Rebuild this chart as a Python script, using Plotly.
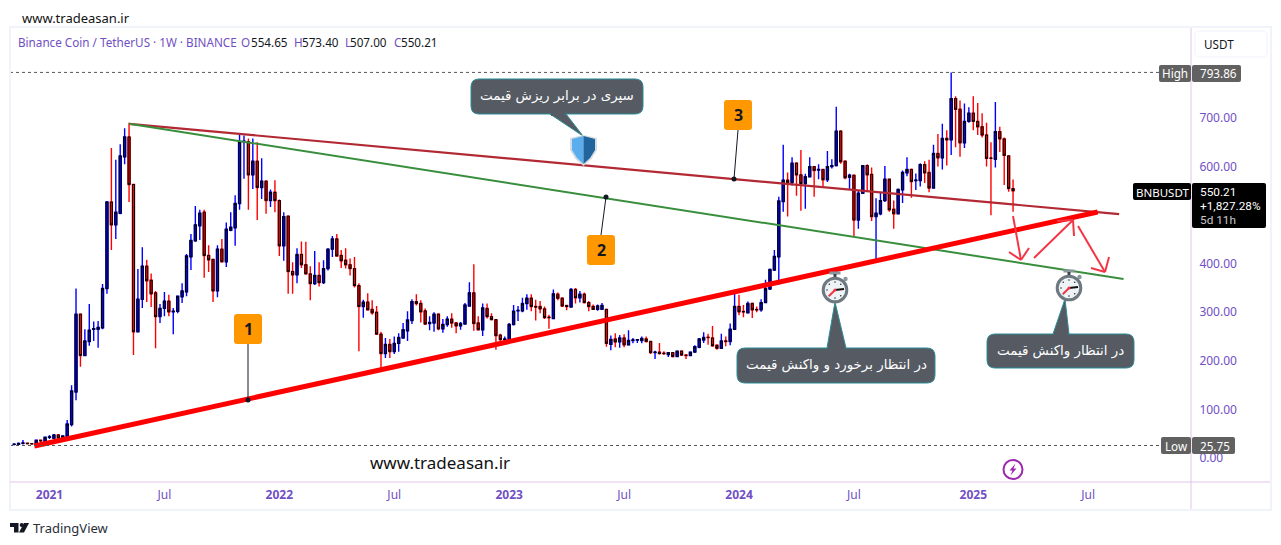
import pandas as pd
import plotly.graph_objects as go

# ---------- data ----------
first_week = "2020-11-09"
opens = [28,28.2,30.2,30.5,29.5,28.8,36.4,32.3,42.6,40.5,
47.4,41.5,44,69,136,296,211,240,265,265,
268,349,527,480,504,620,661,563,260,327,
395,366,340,291,308,323,301,302,332,342,
414,447,478,506,417,409,344,430,404,469,
474,524,651,651,583,611,557,570,530,547,
530,437,498,384,377,419,398,379,359,376,
361,390,430,451,417,407,398,390,355,312,
321,306,300,255,215,234,219,236,247,262,
283,322,318,303,277,278,296,266,275,286,
278,272,276,313,340,278,264,308,291,285,
253,244,
244,275,303,303,318,329,312,312,307,290,
287,337,329,314,311,347,330,337,320,312,
306,306,306,234,245,239,247,233,242,243,
242,245,240,217,218,216,213,217,209,220,
212,211,218,228,243,248.5,247,232,226,241,
240,265,
312,301.5,299,318,306,305,320,348,387,414,
528,572,567,607,583,565,579,600,593,594,
573,600,602,673,611,578,582,490,545,602,
584,497,503,530,574,512,503,552,587,594,
571,571,604,588,556,627,618,658,655,740,
718,649,693,
710,693,682,665,617.5,615,672,657,622,554.65]
highs = [29,31.8,37,31,30,37,36.5,43,47.4,49.4,
49.4,47,78,150,349,296,265,317,281,282,
358,529,638,614,646,679,690,563,389,434,
408,380,344,317,342,336,309,333,360,420,
461,519,511,511,438,409,438,451,485,506,
541,669,664,658,658,650,617,572,553,572,
532,506,498,403,432,446,445,395,426,403,
407,432,457,461,428,432,411,414,360,326,
339,325,313,260,247,245,250,257,278,302,
327,337,325,308,292,300,298,286,292,298,
280,280,319,362,399,292,318,318,298,285,
256,250,
278,315,313,330,337,337,326,323,312,295,
347,341,331,314,350,350,344,341,323,316,
316,319,306,252,257,253,255,263,247,245,
250,250,241,221,237,220,218,218,221,222,
213,219,232,247,259,256,272,234,256,250,
277,339,
336,315,322,320,312,327,367,390,428,538,
645,588,619,609,634,585,619,600,605,595,
632,615,723,675,613,585,583,551,603,605,
598,535,547,601,575,530,555,592,619,596,
586,607,611,614,645,667,688,675,793.86,745,
736,730,722,
745,731,710,690,650,733,682,660,622,573.40]
lows = [25.75,27.5,28,29,28,27.5,30,30,39,39,
39.8,41,43,65,119,188,210,231,241,227,
265,338,428,451,502,605,527,212,260,309,
321,311,226,278,292,292,255,298,319,333,
387,445,449,371,383,321,331,404,393,467,
437,511,575,511,554,490,533,503,517,506,
416,406,338,338,360,391,379,325,356,353,
358,386,414,416,391,390,376,351,220,289,
305,295,255,185,206,206,214,219,246,241,
276,314,279,274,263,260,263,258,270,268,
257,264,275,313,262,263,251,287,283,223,
240,244,
243,273,282,300,305,302,283,298,286,266,
287,325,311,304,311,318,320,318,302,305,
303,306,229,222,228,227,228,232,236,237,
236,238,214,204,213,212,208,207,208,210,
204,211,217,226,237,233,229,223,226,230,
232,265,
294,290,299,288,300,301,319,346,385,357,
507,497,561,540,509,513,578,538,574,560,
568,596,600,606,574,554,456,472,544,551,
488,403,500,527,507,472,503,525,580,536,
552,559,566,547,555,600,594,602,624,640,
620,638,690,
675,665,660,600,500,598,630,562,548,507.00]
closes = [28.5,30,30.9,29.5,29.3,36.4,35.5,42.6,43.2,47.4,
41,45.3,70,138,296,211,241,263,266,269,
349,527,480,506,622,661,563,260,327,395,
365,338,291,308,323,301,302,333,344,416,
448,480,504,417,408,344,430,404,471,475,
524,651,652,583,611,557,570,530,547,530,
437,497,384,377,419,398,379,359,376,361,
390,430,451,416,406,398,390,355,312,321,
305,299,255,215,234,219,236,248,264,284,
322,318,301,276,279,296,266,275,286,278,
272,277,315,340,277,264,309,291,285,252,
244,245,
275,302,304,318,329,312,311,307,289,289,
338,329,313,312,347,330,337,320,312,306,
313,314,236,244,239,247,233,242,243,243.5,
246,240,217,218,215,215,217,209,220,212,
211,218,229,245,248,248,231,226,241,240,
265,312,
301,301,318,305,305,320,349,388,415,529,
572,567,607,583,565,579,600,592,594,573,
600,602,673,610,577,582,490,545,602,583,
497,504,530,574,511,503,553,588,594,569,
572,604,587,556,627,618,658,655,740,718,
649,693,710,
693,682,665,617,617,672,657,623,555,550.21]

price_ticks = [0,100,200,300,400,500,600,700]
price_labels = ["0.00","100.00","200.00","300.00","400.00","500.00","600.00","700.00"]
time_ticks = ["2021-01-04","2021-07-05","2022-01-03","2022-07-04","2023-01-02","2023-07-03","2024-01-01","2024-07-01","2025-01-06","2025-07-07"]
time_labels = ["<b>2021</b>","Jul","<b>2022</b>","Jul","<b>2023</b>","Jul","<b>2024</b>","Jul","<b>2025</b>","Jul"]

high_level = 793.86
low_level = 25.75
trend_red_x = ["2020-12-11","2025-07-22"]
trend_red_y = [24.7,506.5]
trend_brown_x = ["2021-05-10","2025-08-25"]
trend_brown_y = [688,502]
trend_green_x = ["2021-05-10","2025-09-01"]
trend_green_y = [688,368.5]

weeks = pd.date_range(first_week, periods=len(opens), freq="7D")
body_top = [max(a,b) for a,b in zip(opens,closes)]
body_bot = [min(a,b) for a,b in zip(opens,closes)]

# ---------- layout geometry ----------
L,R,T,B = 10,1191,28,482
W,H = 1281,545
PX_WEEK = 4.42
X0 = pd.Timestamp("2021-01-04")
x_start = X0 + pd.Timedelta(weeks=(L-49.5)/PX_WEEK)
x_end = X0 + pd.Timedelta(weeks=(R-49.5)/PX_WEEK)
y_scale = 0.4857
y_lo = (458-B)/y_scale
y_hi = (458-T)/y_scale

def px(x): return (x-L)/(R-L)
def py(y): return (B-y)/(B-T)

PURPLE = "#7050c4"
FONT = "Noto Sans"
TAGFONT = "Roboto"
ARABIC = "DejaVu Sans"
shapes, notes = [], []

def path(points, close=False):
    s = "M "+" L ".join(f"{px(a):.5f} {py(b):.5f}" for a,b in points)
    return s+(" Z" if close else "")

def line(a,b,c,d,color,width=1,dash=None):
    shapes.append(dict(type="line",xref="paper",yref="paper",x0=px(a),y0=py(b),x1=px(c),y1=py(d),
                       line=dict(color=color,width=width,dash=dash or "solid"),layer="above"))

def rect(a,b,c,d,fill,border=None,bw=0):
    shapes.append(dict(type="rect",xref="paper",yref="paper",x0=px(a),y0=py(b),x1=px(c),y1=py(d),
                       fillcolor=fill,line=dict(color=border or fill,width=bw),layer="above"))

def circle(cx,cy,r,fill,border=None,bw=0):
    shapes.append(dict(type="circle",xref="paper",yref="paper",x0=px(cx-r),y0=py(cy-r),x1=px(cx+r),y1=py(cy+r),
                       fillcolor=fill,line=dict(color=border or fill,width=bw),layer="above"))

def rrect(a,b,c,d,r):
    P=lambda x,y:f"{px(x):.5f} {py(y):.5f}"
    return (f"M {P(a+r,b)} L {P(c-r,b)} Q {P(c,b)} {P(c,b+r)} L {P(c,d-r)} Q {P(c,d)} {P(c-r,d)} "
            f"L {P(a+r,d)} Q {P(a,d)} {P(a,d-r)} L {P(a,b+r)} Q {P(a,b)} {P(a+r,b)} Z")

def rshape(a,b,c,d,r,fill,border=None,bw=0):
    shapes.append(dict(type="path",xref="paper",yref="paper",path=rrect(a,b,c,d,r),fillcolor=fill,
                       line=dict(color=border or fill,width=bw),layer="above"))

def poly(points,fill,border=None,bw=0):
    shapes.append(dict(type="path",xref="paper",yref="paper",path=path(points,True),fillcolor=fill,
                       line=dict(color=border or fill,width=bw),layer="above"))

def text(x,y,s,size=12,color="#131722",anchor="left",font=FONT):
    notes.append(dict(xref="paper",yref="paper",x=px(x),y=py(y),text=s,showarrow=False,xanchor=anchor,
                      yanchor="middle",align=anchor if anchor!="center" else "center",
                      font=dict(family=font,size=size,color=color),borderpad=0,borderwidth=0))

# frame
GREY="#f0f3fa"
rect(9,26,1272,28,GREY); rect(9,26,11,510,GREY); rect(1270,26,1272,510,GREY); rect(9,509,1272,511,GREY)
PAX="#e1c6ea"
line(L,B,1270,B,PAX,1); line(R,28,R,509,PAX,1)

# USDT button
rshape(1195,31,1267,57,5,"#ffffff",GREY,1)
text(1204,44,"USDT",11.7,"#131722")

# top texts
text(22,18,"www.tradeasan.ir",13,"#111111")
text(18,42,"Binance Coin / TetherUS · 1W · BINANCE",11.7,PURPLE)
for xl,xv,l,v in [(241,250.5,"O","554.65"),(293.5,302,"H","573.40"),(345,350,"L","507.00"),(393.5,401,"C","550.21")]:
    text(xl,42,l,11.7,PURPLE); text(xv,42,v,11.7,"#131722")

# tags
rshape(1159,65,1191,82,2,"#616161"); rshape(1192,65,1241,82,2,"#616161")
text(1175,73.5,"High",11.7,"#ffffff","center"); text(1200,73.5,"793.86",11.7,"#ffffff")
rshape(1161,437,1191,454,2,"#616161"); rshape(1192,437,1235,454,2,"#616161")
text(1176,445.5,"Low",11.7,"#ffffff","center"); text(1200,445.5,"25.75",11.7,"#ffffff")
rshape(1133,183,1191,200,2,"#000000"); rshape(1192,183,1266,228,2,"#000000")
text(1162,192,"BNBUSDT",11.5,"#ffffff","center")
text(1200,192,"550.21",11.8,"#ffffff",font=TAGFONT)
text(1200,206,"+1,827.28%",11.8,"#ffffff",font=TAGFONT)
text(1200,220,"5d 11h",11.8,"#c8c8c8",font=TAGFONT)

# orange number labels with leaders
def number(a,b,label,fx,fy,tx,ty):
    line(fx,fy,tx,ty,"#131722",1)
    circle(tx,ty,2.5,"#131722")
    rshape(a,b,a+28,b+30,3,"#ff9800")
    text(a+14,b+15,label,16,"#131722","center")
number(234,314,"<b>1</b>",248,344,248,400)
number(587,235,"<b>2</b>",601,235,606,197)
number(724,100,"<b>3</b>",738,130,734,179)

# callouts
FILL,EDGE="#555a63","#2a8c96"
def callout(a,b,c,d,base1,base2,base_y,tipx,tipy,label,size):
    poly([(base1,base_y),(tipx,tipy),(base2,base_y)],FILL,EDGE,1)
    rshape(a,b,c,d,8,FILL,EDGE,1)
    rect(base1+1,base_y-2,base2-1,base_y+2,FILL)
    text((a+c)/2,(b+d)/2-0.5,label,size,"#ffffff","center",ARABIC)
callout(471,79,643,114,550,566,114,583,136,"سپری در برابر ریزش قیمت",13.4)
callout(737,348,935,383,827,846,348,835,302,"در انتظار برخورد و واکنش قیمت",13.4)
callout(987,334,1134,368,1053,1069,334,1065,299,"در انتظار واکنش قیمت",13.4)

# shield
def shield():
    sx,top,bot=583.5,136,165
    poly([(sx,top-1),(sx-13.5,top+2),(sx-13.5,top+14),(sx-8,top+23),(sx,bot+1),(sx+8,top+23),(sx+13.5,top+14),(sx+13.5,top+2)],"#d5dbe2")
    poly([(sx,top),(sx-11.5,top+3),(sx-11.5,top+14),(sx-6.5,top+22),(sx,bot-1)],"#5aaeee")
    poly([(sx,top),(sx+11.5,top+3),(sx+11.5,top+14),(sx+6.5,top+22),(sx,bot-1)],"#22659c")
shield()

# stopwatches
def stopwatch(cx,cy):
    rect(cx-5.5,cy-18.5,cx+5.5,cy-15.5,"#8a969e")
    rect(cx-1.5,cy-16,cx+1.5,cy-12,"#3c4348")
    circle(cx+10.5,cy-11,2.2,"#8a969e")
    circle(cx,cy,11.8,"#eef3f6","#6d7880",3)
    for dx,dy in [(0,-8),(0,8),(-8,0),(-5.7,-5.7),(5.7,-5.7),(-5.7,5.7),(5.7,5.7)]:
        circle(cx+dx,cy+dy,0.8,"#2b2f33")
    line(cx,cy,cx+9,cy-1,"#111111",2)
    line(cx,cy,cx-6,cy+6,"#f23645",2)
    circle(cx,cy,1.5,"#f23645")
stopwatch(835,290)
stopwatch(1069,288)

# hand-drawn arrows
ARROW="#f23645"
for seg in [(1013,216,1021,260),(1009,252,1021,260),(1029,248,1021,260),
            (1034,258,1073,220),(1057,221,1073,220),(1074,236,1073,220),
            (1078,226,1105,272),(1091,268,1105,272),(1109,257,1105,272)]:
    line(*seg,ARROW,2)

# lightning icon
circle(1013,469.5,9.5,"rgba(0,0,0,0)","#9c27b0",2)
poly([(1015.5,463.5),(1009.5,470.5),(1012.5,470.5),(1010.5,475.5),(1016.5,468.5),(1013.5,468.5)],"#9c27b0")

# watermark + logo
text(370,462,"www.tradeasan.ir",17,"#111111")
text(33,527.5,"TradingView",13,"#2a2e39")
poly([(10,523),(18.5,523),(18.5,532.5),(14,532.5),(14,527),(10,527)],"#131722")
circle(21.7,525,2,"#131722")
poly([(24,523),(29,523),(24,532.5),(19,532.5)],"#131722")

# ---------- traces ----------
fig = go.Figure()
fig.add_trace(go.Candlestick(x=weeks,open=opens,high=highs,low=lows,close=closes,
    increasing=dict(line=dict(color="#0000ff",width=1.4),fillcolor="#0000ff"),
    decreasing=dict(line=dict(color="#ff0000",width=1.4),fillcolor="#ff0000"),hoverinfo="skip",showlegend=False))
fig.add_trace(go.Candlestick(x=weeks,open=opens,high=body_top,low=body_bot,close=closes,
    increasing=dict(line=dict(color="#000000",width=1),fillcolor="#0000ff"),
    decreasing=dict(line=dict(color="#000000",width=1),fillcolor="#ff0000"),hoverinfo="skip",showlegend=False))
for xs,ys,c,w in [(trend_brown_x,trend_brown_y,"#b22833",2.2),(trend_green_x,trend_green_y,"#388e3c",2),(trend_red_x,trend_red_y,"#ff0000",5)]:
    fig.add_trace(go.Scatter(x=xs,y=ys,mode="lines",line=dict(color=c,width=w),hoverinfo="skip",showlegend=False))
for lvl,px_end in [(high_level,1159),(low_level,1161)]:
    fig.add_trace(go.Scatter(x=[x_start,X0+pd.Timedelta(weeks=(px_end-49.5)/PX_WEEK)],y=[lvl,lvl],mode="lines",
        line=dict(color="#555555",width=1,dash="dot"),hoverinfo="skip",showlegend=False))

fig.update_layout(width=W,height=H,autosize=False,paper_bgcolor="#ffffff",plot_bgcolor="#ffffff",
    margin=dict(l=L,r=W-R,t=T,b=H-B),showlegend=False,boxmode="overlay",boxgap=0.35,
    font=dict(family=FONT,size=12,color=PURPLE),shapes=shapes,annotations=notes,
    xaxis=dict(type="date",range=[x_start,x_end],tickmode="array",tickvals=time_ticks,ticktext=time_labels,
               showgrid=False,zeroline=False,showline=False,ticks="",rangeslider=dict(visible=False),
               ticklabelstandoff=4,tickfont=dict(family=FONT,size=12,color=PURPLE),fixedrange=True),
    yaxis=dict(side="right",range=[y_lo,y_hi],tickmode="array",tickvals=price_ticks,ticktext=price_labels,
               showgrid=False,zeroline=False,showline=False,ticks="outside",ticklen=5,tickcolor="rgba(0,0,0,0)",
               tickfont=dict(family=FONT,size=12,color=PURPLE),fixedrange=True))
fig.write_html("out.html",post_script="document.body.style.margin='0';document.body.style.overflow='hidden';",config=dict(displayModeBar=False))
